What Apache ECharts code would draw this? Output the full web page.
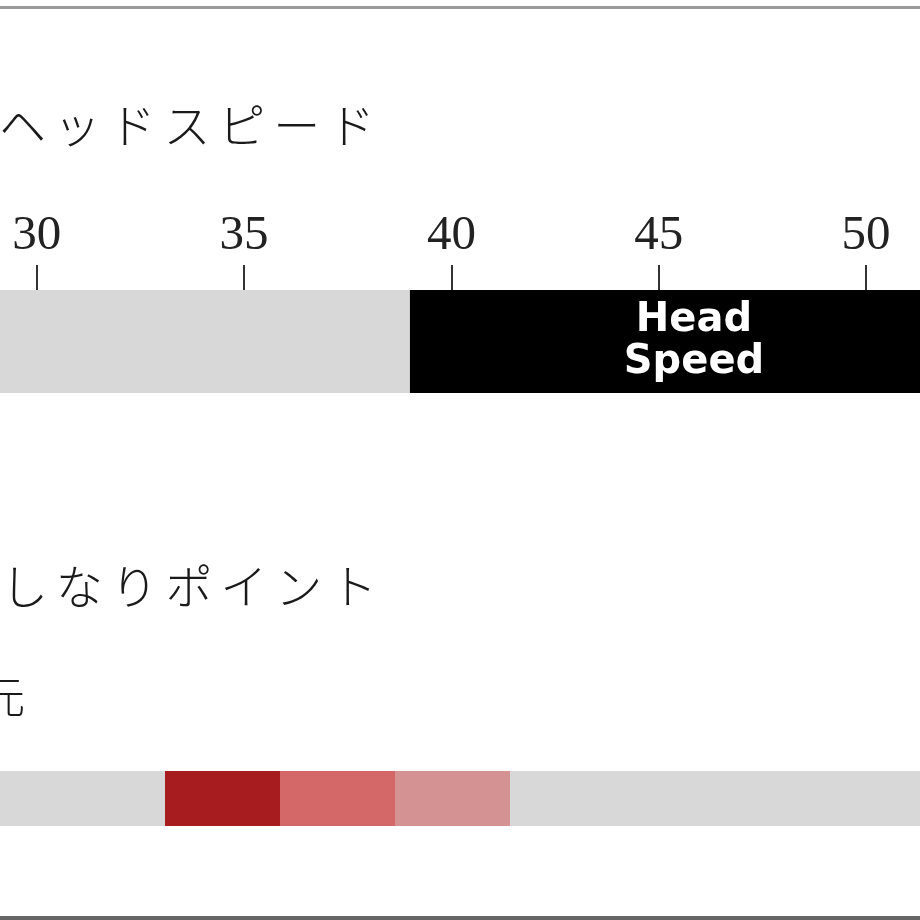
<!DOCTYPE html>
<html>
<head>
<meta charset="utf-8">
<script src="https://cdn.jsdelivr.net/npm/echarts@6/dist/echarts.min.js"></script>
<style>
  html, body { margin: 0; padding: 0; background: #ffffff; }
  #chart { width: 920px; height: 920px; }
</style>
</head>
<body>
<div id="chart"></div>
<script>
// ---- data ----
const speedTitle = 'ヘッドスピード';
const speedAxisRange = [25, 55];
const speedTickStep = 5;
const speedBand = [39, 52.7];          // recommended head speed range
const speedBandLabel = ['Head', 'Speed'];

const bendTitle = 'しなりポイント';
const bendSideLabel = '手元';
const bendScale = [0, 9];
const bendSegments = [2, 1, 1, 1, 4];   // gray, strong, mid, weak, gray

// ---- styles ----
const bendColors = ['#d8d8d8', '#a61c1f', '#d46868', '#d49293', '#d8d8d8'];
const jpFont = '"Noto Sans CJK JP", "Noto Sans", sans-serif';
const spaced = s => s.split('').join('\u2006');

const chart = echarts.init(document.getElementById('chart'));

const speedSeries = [
  { value: speedBand[0], color: '#d8d8d8', label: null },
  { value: speedBand[1] - speedBand[0], color: '#000000', label: speedBandLabel.join('\n') },
  { value: speedAxisRange[1] - speedBand[1], color: '#d8d8d8', label: null }
].map(d => ({
  type: 'bar',
  xAxisIndex: 0,
  yAxisIndex: 0,
  stack: 'speed',
  barWidth: '100%',
  silent: true,
  itemStyle: { color: d.color },
  label: d.label ? {
    show: true,
    position: 'inside',
    formatter: d.label,
    color: '#ffffff',
    fontFamily: '"DejaVu Sans", sans-serif',
    fontWeight: 'bold',
    fontSize: 40,
    lineHeight: 42
  } : { show: false },
  data: [d.value]
}));

const bendSeries = bendSegments.map((v, i) => ({
  type: 'bar',
  xAxisIndex: 1,
  yAxisIndex: 1,
  stack: 'bend',
  barWidth: '100%',
  silent: true,
  itemStyle: { color: bendColors[i] },
  data: [v]
}));

chart.setOption({
  animation: false,
  backgroundColor: '#ffffff',
  grid: [
    { left: -170.6, width: 1244, top: 290, height: 103, containLabel: false, outerBoundsMode: 'none' },
    { left: -65, width: 1035, top: 771, height: 55, containLabel: false, outerBoundsMode: 'none' }
  ],
  xAxis: [
    {
      type: 'value',
      gridIndex: 0,
      position: 'top',
      min: speedAxisRange[0],
      max: speedAxisRange[1],
      interval: speedTickStep,
      axisLine: { show: false },
      axisTick: { show: true, length: 25, lineStyle: { color: '#333333', width: 2 } },
      axisLabel: {
        show: true,
        margin: 29,
        fontFamily: '"Liberation Serif", "DejaVu Serif", serif',
        fontSize: 49,
        color: '#222222'
      },
      splitLine: { show: false }
    },
    {
      type: 'value',
      gridIndex: 1,
      min: bendScale[0],
      max: bendScale[1],
      show: false
    }
  ],
  yAxis: [
    { type: 'category', gridIndex: 0, data: ['speed'], show: false },
    { type: 'category', gridIndex: 1, data: ['bend'], show: false }
  ],
  series: speedSeries.concat(bendSeries),
  graphic: [
    {
      type: 'line',
      shape: { x1: 0, y1: 7.5, x2: 920, y2: 7.5 },
      style: { stroke: '#999999', lineWidth: 3 }
    },
    {
      type: 'line',
      shape: { x1: 0, y1: 918, x2: 920, y2: 918 },
      style: { stroke: '#666666', lineWidth: 4 }
    },
    {
      type: 'text',
      x: -1,
      y: 125,
      style: {
        text: spaced(speedTitle),
        fill: '#1a1a1a',
        font: '300 47px ' + jpFont,
        verticalAlign: 'middle',
        align: 'left'
      }
    },
    {
      type: 'text',
      x: 1,
      y: 586,
      style: {
        text: spaced(bendTitle),
        fill: '#1a1a1a',
        font: '300 47px ' + jpFont,
        verticalAlign: 'middle',
        align: 'left'
      }
    },
    {
      type: 'text',
      x: 25,
      y: 697,
      style: {
        text: bendSideLabel,
        fill: '#1a1a1a',
        font: '300 43px ' + jpFont,
        verticalAlign: 'middle',
        align: 'right'
      }
    }
  ]
});
</script>
</body>
</html>
